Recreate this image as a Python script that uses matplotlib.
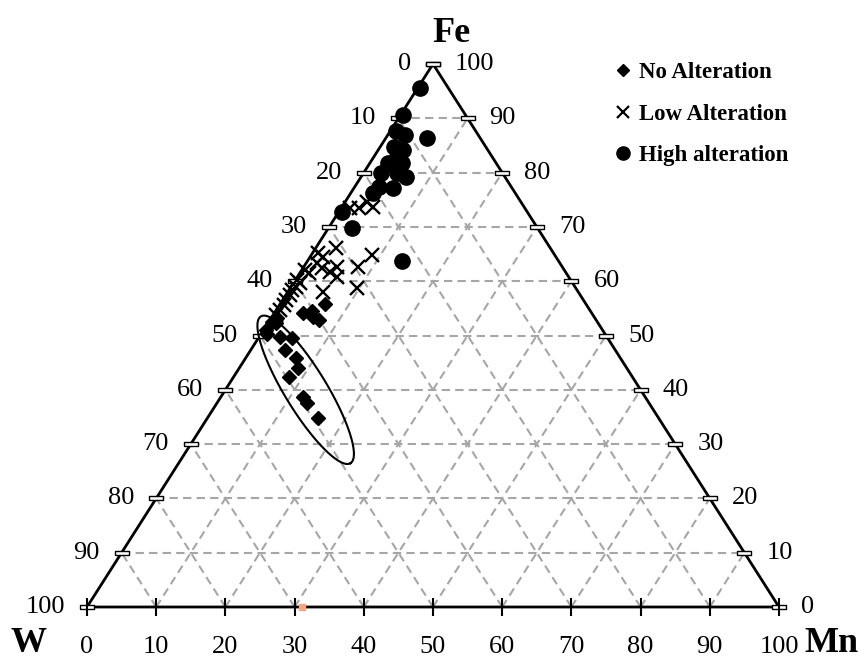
import numpy as np
import matplotlib.pyplot as plt
from matplotlib.lines import Line2D

plt.rcParams['font.family'] = ['Liberation Serif', 'DejaVu Serif']

# compositions in percent (Fe, Mn); W = 100 - Fe - Mn
no_fe = [53.2, 52.5, 52.3, 51.0, 50.3, 49.7, 49.5, 47.3, 45.9, 44.0, 42.4,
         38.7, 37.6, 34.8, 54.1, 54.5, 53.4, 52.9, 55.8]
no_mn = [0.9, 0.5, 1.2, 0.3, 0.8, 3.0, 4.9, 4.9, 7.2, 8.5, 8.0,
         11.9, 13.0, 16.0, 4.1, 5.2, 6.0, 7.1, 6.5]

low_fe = [74.6, 73.7, 73.5, 73.5, 66.1, 65.2, 64.8, 64.5, 63.4, 62.6, 62.6,
          62.4, 62.1, 61.5, 60.8, 60.2, 59.7, 58.9, 58.7, 58.0, 58.4, 57.5,
          56.5, 55.6, 54.7, 53.8, 61.7]
low_mn = [3.2, 4.5, 1.3, 2.5, 3.0, 0.8, 8.8, 1.9, 1.5, 7.9, 4.8,
          2.8, 0.5, 1.4, 5.7, 0.3, 1.0, 0.8, 9.6, 5.1, 0.4, 0.6,
          0.5, 0.6, 0.5, 0.4, 4.2]

high_fe = [95.6, 90.6, 87.7, 86.9, 86.4, 84.7, 84.2, 82.9, 81.8, 81.8, 79.9,
           79.9, 79.2, 77.3, 77.2, 76.2, 72.7, 69.8, 63.7]
high_mn = [0.3, 0.4, 0.8, 2.5, 5.9, 2.0, 3.6, 3.4, 2.6, 4.6, 2.6,
           4.8, 6.5, 3.6, 5.6, 3.2, 0.5, 3.4, 13.6]

ticks = list(range(0, 101, 10))


def tern(fe, mn):
    fe = np.asarray(fe, dtype=float)
    mn = np.asarray(mn, dtype=float)
    return (mn + fe / 2) / 100, fe / 100


fig = plt.figure(figsize=(8.66, 6.6), dpi=100)
ax = fig.add_axes([87 / 866, 53 / 660, 692 / 866, 543 / 660])
ax.set_xlim(0, 1)
ax.set_ylim(0, 1)
ax.axis('off')

# dashed grid
grid_kw = dict(color='#a6a6a6', lw=1.5, ls=(0, (4, 2.5)), zorder=1)
for v in ticks[1:-1]:
    ax.plot(*tern([v, v], [0, 100 - v]), **grid_kw)
    ax.plot(*tern([0, 100 - v], [v, v]), **grid_kw)
    ax.plot(*tern([0, 100 - v], [100 - v, 0]), **grid_kw)

# triangle frame
ax.plot(*tern([0, 0, 100, 0], [0, 100, 0, 0]), color='black', lw=2,
        zorder=3, clip_on=False)

box = [(-1, -0.22), (1, -0.22), (1, 0.22), (-1, 0.22), (-1, -0.22)]
t = np.array(ticks)
ax.plot(*tern(t, np.zeros_like(t)), ls='none', marker=box, ms=10, mfc='white',
        mec='black', mew=1, zorder=4, clip_on=False)
ax.plot(*tern(t, 100 - t), ls='none', marker=box, ms=10, mfc='white',
        mec='black', mew=1, zorder=4, clip_on=False)
ax.plot(*tern(np.zeros_like(t), t), ls='none', marker='|', ms=13, mec='black',
        mew=1.5, zorder=4, clip_on=False)
ax.plot(*tern([0], [31]), ls='none', marker='s', ms=4, mfc='#f4a582',
        mec='#f4a582', zorder=4, clip_on=False)

lab_kw = dict(textcoords='offset pixels', fontsize=19, va='center',
              annotation_clip=False)
for v in ticks:
    ax.annotate(str(100 - v), tern(v, 0), xytext=(-22, 0), ha='right', **lab_kw)
    ax.annotate(str(v), tern(v, 100 - v), xytext=(22, 0), ha='left', **lab_kw)
    ax.annotate(str(v), tern(0, v), xytext=(0, -40), ha='center', **lab_kw)

corner_kw = dict(textcoords='offset pixels', fontsize=26, fontweight='bold',
                 ha='center', va='center', annotation_clip=False)
ax.annotate('Fe', tern(100, 0), xytext=(18, 31), **corner_kw)
ax.annotate('W', tern(0, 0), xytext=(-58, -37), **corner_kw)
ax.annotate('Mn', tern(0, 100), xytext=(52, -37), **corner_kw)

# samples
ax.plot(*tern(no_fe, no_mn), ls='none', marker='D', ms=7.5, color='black',
        zorder=5)
ax.plot(*tern(low_fe, low_mn), ls='none', marker='x', ms=10, mew=1.7,
        color='black', zorder=5)
ax.plot(*tern(high_fe, high_mn), ls='none', marker='o', ms=11,
        color='black', zorder=5)

# ellipse around the unaltered trend
cx, cy = tern(40.0, 11.6)
th = np.linspace(0, 2 * np.pi, 300)
ang = np.deg2rad(-58.6)
a, b = 86, 21
dx = a * np.cos(th) * np.cos(ang) - b * np.sin(th) * np.sin(ang)
dy = a * np.cos(th) * np.sin(ang) + b * np.sin(th) * np.cos(ang)
ax.plot(cx + dx / 692, cy + dy / 543, color='black', lw=1.5, zorder=6)

handles = [
    Line2D([], [], ls='none', marker='D', ms=6, color='black'),
    Line2D([], [], ls='none', marker='x', ms=8, mew=1.6, color='black'),
    Line2D([], [], ls='none', marker='o', ms=9.5, color='black'),
]
leg = fig.legend(handles, ['No Alteration', 'Low Alteration', 'High alteration'],
                 loc='upper left', bbox_to_anchor=(616 / 866, 1 - 62 / 660),
                 frameon=False, borderpad=0, borderaxespad=0, handlelength=0.6,
                 handletextpad=0.4, labelspacing=0.9,
                 prop=dict(size=16.5, weight='bold'))

fig.savefig('out.png', dpi=100)
